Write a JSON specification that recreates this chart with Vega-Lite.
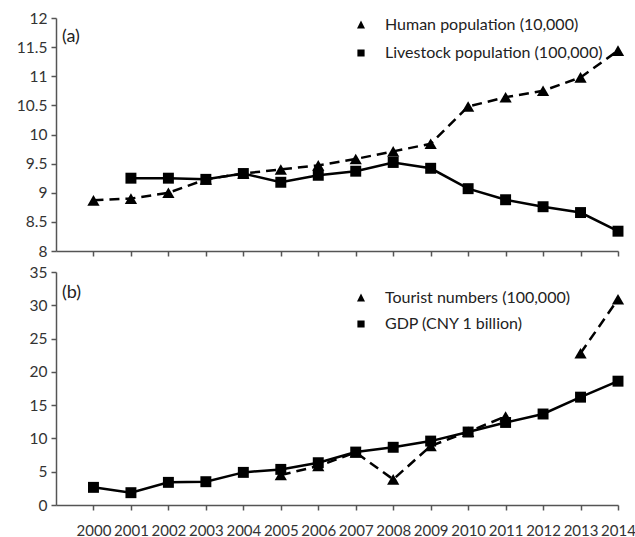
{
  "$schema": "https://vega.github.io/schema/vega-lite/v6.json",
  "background": "white",
  "padding": {"left": 16, "top": 11, "right": 3, "bottom": 0},
  "spacing": 5,
  "resolve": {"scale": {"shape": "independent"}, "legend": {"shape": "independent"}},
  "datasets": {
    "a": [
      {"series": "Human population (10,000)", "year": 2000, "value": 8.87},
      {"series": "Human population (10,000)", "year": 2001, "value": 8.9},
      {"series": "Human population (10,000)", "year": 2002, "value": 9.0},
      {"series": "Human population (10,000)", "year": 2003, "value": 9.23},
      {"series": "Human population (10,000)", "year": 2004, "value": 9.33},
      {"series": "Human population (10,000)", "year": 2005, "value": 9.4},
      {"series": "Human population (10,000)", "year": 2006, "value": 9.47},
      {"series": "Human population (10,000)", "year": 2007, "value": 9.58},
      {"series": "Human population (10,000)", "year": 2008, "value": 9.71},
      {"series": "Human population (10,000)", "year": 2009, "value": 9.84},
      {"series": "Human population (10,000)", "year": 2010, "value": 10.48},
      {"series": "Human population (10,000)", "year": 2011, "value": 10.64},
      {"series": "Human population (10,000)", "year": 2012, "value": 10.75},
      {"series": "Human population (10,000)", "year": 2013, "value": 10.98},
      {"series": "Human population (10,000)", "year": 2014, "value": 11.44},
      {"series": "Livestock population (100,000)", "year": 2001, "value": 9.25},
      {"series": "Livestock population (100,000)", "year": 2002, "value": 9.25},
      {"series": "Livestock population (100,000)", "year": 2003, "value": 9.23},
      {"series": "Livestock population (100,000)", "year": 2004, "value": 9.33},
      {"series": "Livestock population (100,000)", "year": 2005, "value": 9.18},
      {"series": "Livestock population (100,000)", "year": 2006, "value": 9.3},
      {"series": "Livestock population (100,000)", "year": 2007, "value": 9.37},
      {"series": "Livestock population (100,000)", "year": 2008, "value": 9.52},
      {"series": "Livestock population (100,000)", "year": 2009, "value": 9.42},
      {"series": "Livestock population (100,000)", "year": 2010, "value": 9.07},
      {"series": "Livestock population (100,000)", "year": 2011, "value": 8.88},
      {"series": "Livestock population (100,000)", "year": 2012, "value": 8.76},
      {"series": "Livestock population (100,000)", "year": 2013, "value": 8.66},
      {"series": "Livestock population (100,000)", "year": 2014, "value": 8.34}
    ],
    "b": [
      {"series": "Tourist numbers (100,000)", "year": 2005, "value": 4.5},
      {"series": "Tourist numbers (100,000)", "year": 2006, "value": 5.85},
      {"series": "Tourist numbers (100,000)", "year": 2007, "value": 7.9},
      {"series": "Tourist numbers (100,000)", "year": 2008, "value": 3.85},
      {"series": "Tourist numbers (100,000)", "year": 2009, "value": 8.86},
      {"series": "Tourist numbers (100,000)", "year": 2010, "value": 11.0},
      {"series": "Tourist numbers (100,000)", "year": 2011, "value": 13.3},
      {"series": "Tourist numbers (100,000)", "year": 2012, "value": null},
      {"series": "Tourist numbers (100,000)", "year": 2013, "value": 22.8},
      {"series": "Tourist numbers (100,000)", "year": 2014, "value": 30.9},
      {"series": "GDP (CNY 1 billion)", "year": 2000, "value": 2.65},
      {"series": "GDP (CNY 1 billion)", "year": 2001, "value": 1.85},
      {"series": "GDP (CNY 1 billion)", "year": 2002, "value": 3.4},
      {"series": "GDP (CNY 1 billion)", "year": 2003, "value": 3.5},
      {"series": "GDP (CNY 1 billion)", "year": 2004, "value": 4.9},
      {"series": "GDP (CNY 1 billion)", "year": 2005, "value": 5.35},
      {"series": "GDP (CNY 1 billion)", "year": 2006, "value": 6.35},
      {"series": "GDP (CNY 1 billion)", "year": 2007, "value": 7.95},
      {"series": "GDP (CNY 1 billion)", "year": 2008, "value": 8.67},
      {"series": "GDP (CNY 1 billion)", "year": 2009, "value": 9.6},
      {"series": "GDP (CNY 1 billion)", "year": 2010, "value": 10.96},
      {"series": "GDP (CNY 1 billion)", "year": 2011, "value": 12.4},
      {"series": "GDP (CNY 1 billion)", "year": 2012, "value": 13.67},
      {"series": "GDP (CNY 1 billion)", "year": 2013, "value": 16.2},
      {"series": "GDP (CNY 1 billion)", "year": 2014, "value": 18.6}
    ]
  },
  "vconcat": [
    {
      "width": 562,
      "height": 233,
      "data": {"name": "a"},
      "title": {"text": "(a)", "anchor": "start", "orient": "top", "frame": "group", "offset": -35, "dx": 6, "fontSize": 18, "fontWeight": "normal", "color": "#222", "font": "Lato"},
      "encoding": {
        "x": {"field": "year", "type": "quantitative", "scale": {"domain": [1999, 2014], "nice": false, "zero": false},
              "axis": {"title": null, "labels": false, "values": [2000,2001,2002,2003,2004,2005,2006,2007,2008,2009,2010,2011,2012,2013,2014]}},
        "y": {"field": "value", "type": "quantitative", "scale": {"domain": [8, 12], "nice": false, "zero": false},
              "axis": {"title": null, "format": "~g", "values": [8,8.5,9,9.5,10,10.5,11,11.5,12]}}
      },
      "layer": [
        {
          "transform": [{"filter": "datum.series === 'Human population (10,000)'"}],
          "mark": {"type": "line", "strokeWidth": 2.5, "color": "black", "strokeDash": [10, 6]}
        },
        {
          "transform": [{"filter": "datum.series === 'Livestock population (100,000)'"}],
          "mark": {"type": "line", "strokeWidth": 2.5, "color": "black"}
        },
        {
          "transform": [{"filter": "datum.series === 'Human population (10,000)'"}],
          "mark": {"type": "point", "shape": "triangle-up", "filled": true, "color": "black", "opacity": 1, "size": 150}
        },
        {
          "transform": [{"filter": "datum.series === 'Livestock population (100,000)'"}],
          "mark": {"type": "point", "shape": "square", "filled": true, "color": "black", "opacity": 1, "size": 120}
        },
        {
          "mark": {"type": "point", "filled": false, "fill": "black", "stroke": "black", "strokeWidth": 2, "opacity": 1, "size": 0},
          "encoding": {
            "shape": {"field": "series", "type": "nominal",
                      "scale": {"domain": ["Human population (10,000)", "Livestock population (100,000)"],
                                "range": ["M-4.25,0H-1.7M1.7,0H4.25M-1,0.9L0,-1.1L1,0.9Z", "M-4.25,0H4.25M-0.9,-0.9H0.9V0.9H-0.9Z"]},
                      "legend": {"title": null, "orient": "none", "legendX": 297, "legendY": -1, "padding": 0,
                                 "symbolSize": 64, "labelOffset": 16, "rowPadding": 12, "labelFontSize": 16, "labelFont": "Lato", "labelColor": "#222", "labelLimit": 400,
                                 "symbolStrokeWidth": 2, "symbolStrokeColor": "black", "symbolFillColor": "black", "symbolOpacity": 1}}
          }
        }
      ]
    },
    {
      "width": 562,
      "height": 233,
      "data": {"name": "b"},
      "title": {"text": "(b)", "anchor": "start", "orient": "top", "frame": "group", "offset": -37, "dx": 6, "fontSize": 18, "fontWeight": "normal", "color": "#222", "font": "Lato"},
      "encoding": {
        "x": {"field": "year", "type": "quantitative", "scale": {"domain": [1999, 2014], "nice": false, "zero": false},
              "axis": {"title": null, "format": "d", "labelPadding": 13, "labelOverlap": false, "labelFlush": false, "labelFontSize": 15, "values": [2000,2001,2002,2003,2004,2005,2006,2007,2008,2009,2010,2011,2012,2013,2014]}},
        "y": {"field": "value", "type": "quantitative", "scale": {"domain": [0, 35], "nice": false},
              "axis": {"title": null, "values": [0,5,10,15,20,25,30,35]}}
      },
      "layer": [
        {
          "transform": [{"filter": "datum.series === 'Tourist numbers (100,000)'"}],
          "mark": {"type": "line", "strokeWidth": 2.5, "color": "black", "strokeDash": [10, 6], "invalid": "break-paths-filter-domains"}
        },
        {
          "transform": [{"filter": "datum.series === 'GDP (CNY 1 billion)'"}],
          "mark": {"type": "line", "strokeWidth": 2.5, "color": "black"}
        },
        {
          "transform": [{"filter": "datum.series === 'Tourist numbers (100,000)' && datum.value != null"}],
          "mark": {"type": "point", "shape": "triangle-up", "filled": true, "color": "black", "opacity": 1, "size": 150}
        },
        {
          "transform": [{"filter": "datum.series === 'GDP (CNY 1 billion)'"}],
          "mark": {"type": "point", "shape": "square", "filled": true, "color": "black", "opacity": 1, "size": 120}
        },
        {
          "transform": [{"filter": "datum.value != null"}],
          "mark": {"type": "point", "filled": false, "fill": "black", "stroke": "black", "strokeWidth": 2, "opacity": 1, "size": 0},
          "encoding": {
            "shape": {"field": "series", "type": "nominal",
                      "scale": {"domain": ["Tourist numbers (100,000)", "GDP (CNY 1 billion)"],
                                "range": ["M-4.25,0H-1.7M1.7,0H4.25M-1,0.9L0,-1.1L1,0.9Z", "M-4.25,0H4.25M-0.9,-0.9H0.9V0.9H-0.9Z"]},
                      "legend": {"title": null, "orient": "none", "legendX": 297, "legendY": 18, "padding": 0,
                                 "symbolSize": 64, "labelOffset": 16, "rowPadding": 10, "labelFontSize": 16, "labelFont": "Lato", "labelColor": "#222", "labelLimit": 400,
                                 "symbolStrokeWidth": 2, "symbolStrokeColor": "black", "symbolFillColor": "black", "symbolOpacity": 1}}
          }
        }
      ]
    }
  ],
  "config": {
    "font": "Lato",
    "view": {"stroke": null},
    "axis": {"grid": false, "labelFont": "Lato", "labelFontSize": 15.5, "labelColor": "#333", "domainColor": "#555", "tickColor": "#555", "domainWidth": 1.5, "tickWidth": 1.5, "tickSize": 5, "labelPadding": 4}
  }
}
